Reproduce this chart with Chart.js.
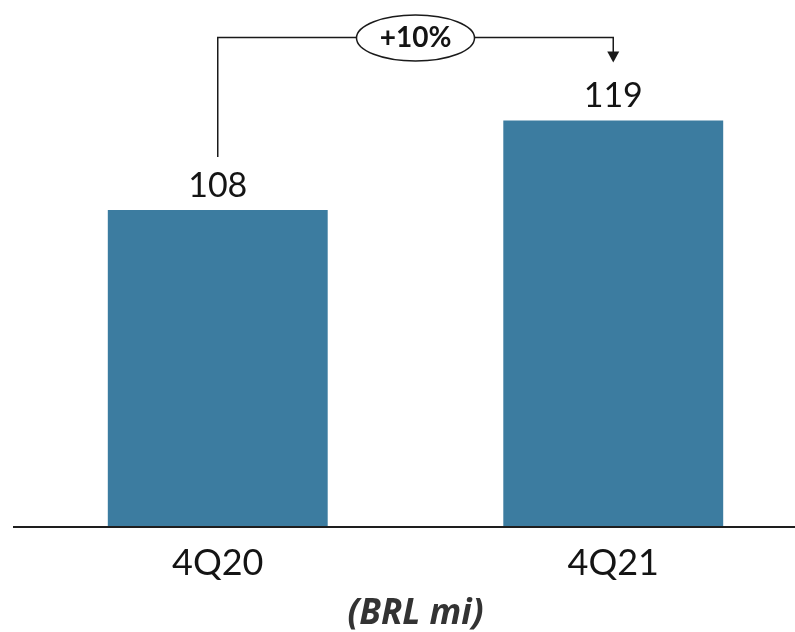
<!DOCTYPE html>
<html>
<head>
<meta charset="utf-8">
<script src="https://cdn.jsdelivr.net/npm/chart.js@4/dist/chart.umd.min.js"></script>
<style>
  html, body { margin: 0; padding: 0; background: #ffffff; overflow: hidden; }
  #wrap { width: 811px; height: 632px; }
</style>
</head>
<body>
<div id="wrap"><canvas id="c" width="811" height="632"></canvas></div>
<script>
// Quarterly figures, BRL millions
const quarters = ['4Q20', '4Q21'];
const values = [108, 119];
const unitLabel = '(BRL mi)';

const barColor = '#3c7ca0';
const inkColor = '#141414';

// Value labels above each bar, baseline rule and the growth callout
const decorations = {
  id: 'decorations',
  afterDatasetsDraw(chart) {
    const ctx = chart.ctx;
    const y = chart.scales.y;
    const meta = chart.getDatasetMeta(0);
    ctx.save();

    // baseline
    const base = y.getPixelForValue(y.min);
    ctx.strokeStyle = '#1e1e1e';
    ctx.lineWidth = 2;
    ctx.beginPath();
    ctx.moveTo(13, base);
    ctx.lineTo(795, base);
    ctx.stroke();

    // value labels
    ctx.fillStyle = inkColor;
    ctx.font = '34px Lato';
    ctx.textAlign = 'center';
    ctx.textBaseline = 'alphabetic';
    meta.data.forEach((bar, i) => {
      ctx.fillText(String(values[i]), bar.x, bar.y - 13);
    });

    // growth callout
    const x0 = meta.data[0].x;
    const x1 = meta.data[1].x;
    const yTop = y.getPixelForValue(values[1]) - 83;
    const yLeftEnd = y.getPixelForValue(values[0]) - 53;
    const yTip = y.getPixelForValue(values[1]) - 58;
    ctx.strokeStyle = '#1a1a1a';
    ctx.lineWidth = 1.5;
    ctx.beginPath();
    ctx.moveTo(x0, yLeftEnd);
    ctx.lineTo(x0, yTop);
    ctx.lineTo(x1, yTop);
    ctx.lineTo(x1, yTip - 10);
    ctx.stroke();
    // arrow head
    ctx.fillStyle = '#1a1a1a';
    ctx.beginPath();
    ctx.moveTo(x1 - 6, yTip - 11);
    ctx.lineTo(x1 + 6, yTip - 11);
    ctx.lineTo(x1, yTip);
    ctx.closePath();
    ctx.fill();

    // ellipse with change in percent
    const cx = (x0 + x1) / 2;
    ctx.beginPath();
    ctx.ellipse(cx, yTop + 0.5, 59, 23, 0, 0, Math.PI * 2);
    ctx.fillStyle = '#ffffff';
    ctx.fill();
    ctx.lineWidth = 1.5;
    ctx.stroke();
    const pct = Math.round((values[1] / values[0] - 1) * 100);
    ctx.fillStyle = inkColor;
    ctx.font = 'bold 28px Lato';
    ctx.textBaseline = 'middle';
    ctx.fillText((pct >= 0 ? '+' : '') + pct + '%', cx, yTop + 1);

    ctx.restore();
  }
};

new Chart(document.getElementById('c'), {
  type: 'bar',
  data: {
    labels: quarters,
    datasets: [{
      data: values,
      backgroundColor: barColor,
      borderWidth: 0,
      barPercentage: 0.556,
      categoryPercentage: 1.0
    }]
  },
  options: {
    responsive: false,
    animation: false,
    devicePixelRatio: 1,
    layout: { padding: { top: 31, left: 20, right: 0, bottom: 0 } },
    plugins: {
      legend: { display: false },
      tooltip: { enabled: false }
    },
    scales: {
      x: {
        grid: { display: false, drawTicks: false },
        border: { display: false },
        afterFit(scale) { scale.height = 105; },
        ticks: {
          padding: 15,
          color: inkColor,
          font: { family: 'Lato', size: 36 }
        },
        title: {
          display: true,
          text: unitLabel,
          color: '#333333',
          padding: { top: 0, bottom: 0 },
          font: { family: 'Open Sans', size: 35, weight: 'bold', style: 'italic', lineHeight: 1.0 }
        }
      },
      y: {
        display: false,
        min: 69,
        max: 130
      }
    }
  },
  plugins: [decorations]
});
</script>
</body>
</html>
